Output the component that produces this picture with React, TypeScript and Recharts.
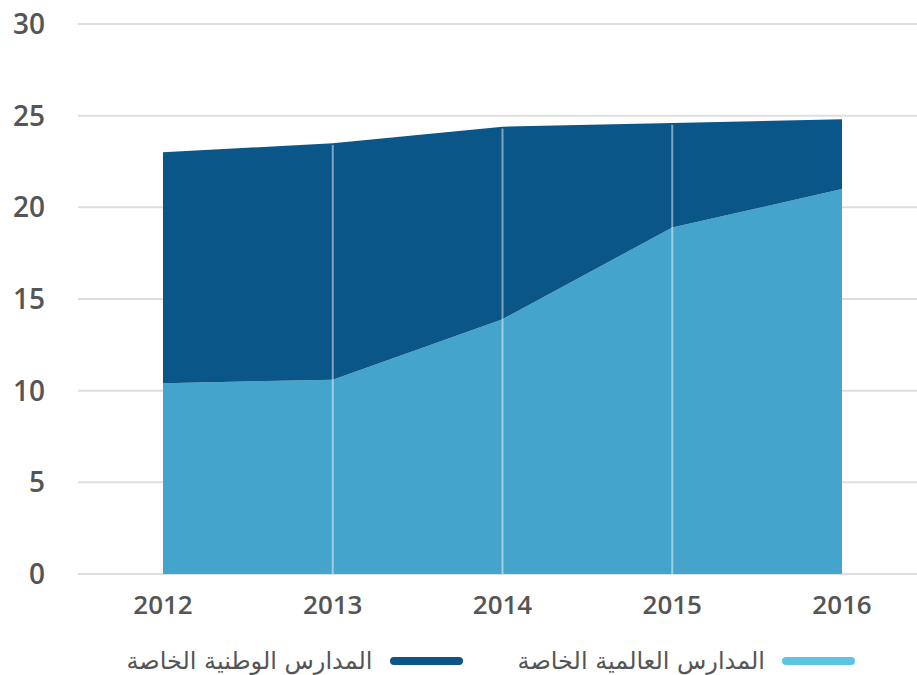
import { AreaChart, Area, XAxis, YAxis, CartesianGrid, ReferenceLine } from 'recharts';

const years = ['2012', '2013', '2014', '2015', '2016'];
const internationalSchools = [10.4, 10.6, 13.9, 18.9, 21.0];
const nationalSchools = [12.6, 12.9, 10.5, 5.7, 3.8];
const yTicks = [0, 5, 10, 15, 20, 25, 30];

const seriesNames = {
  international: 'المدارس العالمية الخاصة',
  national: 'المدارس الوطنية الخاصة',
};

const data = years.map((year, i) => ({
  year,
  international: internationalSchools[i],
  national: nationalSchools[i],
}));

// inner years get a faint vertical line through the stack
const dividerYears = years.slice(1, -1);

const DARK = '#0b5689';
const LIGHT = '#44a4cb';
const TEXT = '#555555';

function LegendItem({ color, label }: { color: string; label: string }) {
  return (
    <div style={{ display: 'flex', alignItems: 'center', direction: 'rtl' }}>
      <span
        style={{
          width: 73,
          height: 8,
          borderRadius: 4,
          background: color,
          marginLeft: 17,
        }}
      />
      <span style={{ fontFamily: '"DejaVu Sans", sans-serif', fontSize: 24, color: TEXT, lineHeight: '30px' }}>
        {label}
      </span>
    </div>
  );
}

export default function App() {
  return (
    <div style={{ position: 'absolute', left: 0, top: 0, width: 917, height: 675, background: '#fff' }}>
      <AreaChart width={917} height={640} data={data} margin={{ top: 24, right: 0, left: 0, bottom: 6 }}>
        <CartesianGrid vertical={false} stroke="#dedede" strokeWidth={2} />
        <XAxis
          dataKey="year"
          padding={{ left: 85, right: 75 }}
          axisLine={false}
          tickLine={false}
          tickSize={0}
          tickMargin={22}
          height={60}
          tick={{ fill: TEXT, fontSize: 26, fontWeight: 600, fontFamily: '"Open Sans", sans-serif' }}
        />
        <YAxis
          domain={[0, 30]}
          ticks={yTicks}
          width={78}
          axisLine={false}
          tickLine={false}
          tickSize={0}
          tickMargin={33}
          tick={{ fill: TEXT, fontSize: 28, fontWeight: 600, fontFamily: '"Open Sans", sans-serif' }}
        />
        <Area
          type="linear"
          dataKey="international"
          stackId="schools"
          fill={LIGHT}
          fillOpacity={1}
          stroke="none"
          isAnimationActive={false}
        />
        <Area
          type="linear"
          dataKey="national"
          stackId="schools"
          fill={DARK}
          fillOpacity={1}
          stroke="none"
          isAnimationActive={false}
        />
        {dividerYears.map((year) => {
          const d = data.find((row) => row.year === year)!;
          return (
            <ReferenceLine
              key={year}
              segment={[
                { x: year, y: 0 },
                { x: year, y: d.international + d.national - 0.1 },
              ]}
              stroke="rgba(255,255,255,0.47)"
              strokeWidth={2}
            />
          );
        })}
      </AreaChart>
      <div
        style={{
          position: 'absolute',
          top: 646,
          right: 62,
          display: 'flex',
          direction: 'rtl',
          gap: 55,
        }}
      >
        <LegendItem color="#5bc5e5" label={seriesNames.international} />
        <LegendItem color={DARK} label={seriesNames.national} />
      </div>
    </div>
  );
}
